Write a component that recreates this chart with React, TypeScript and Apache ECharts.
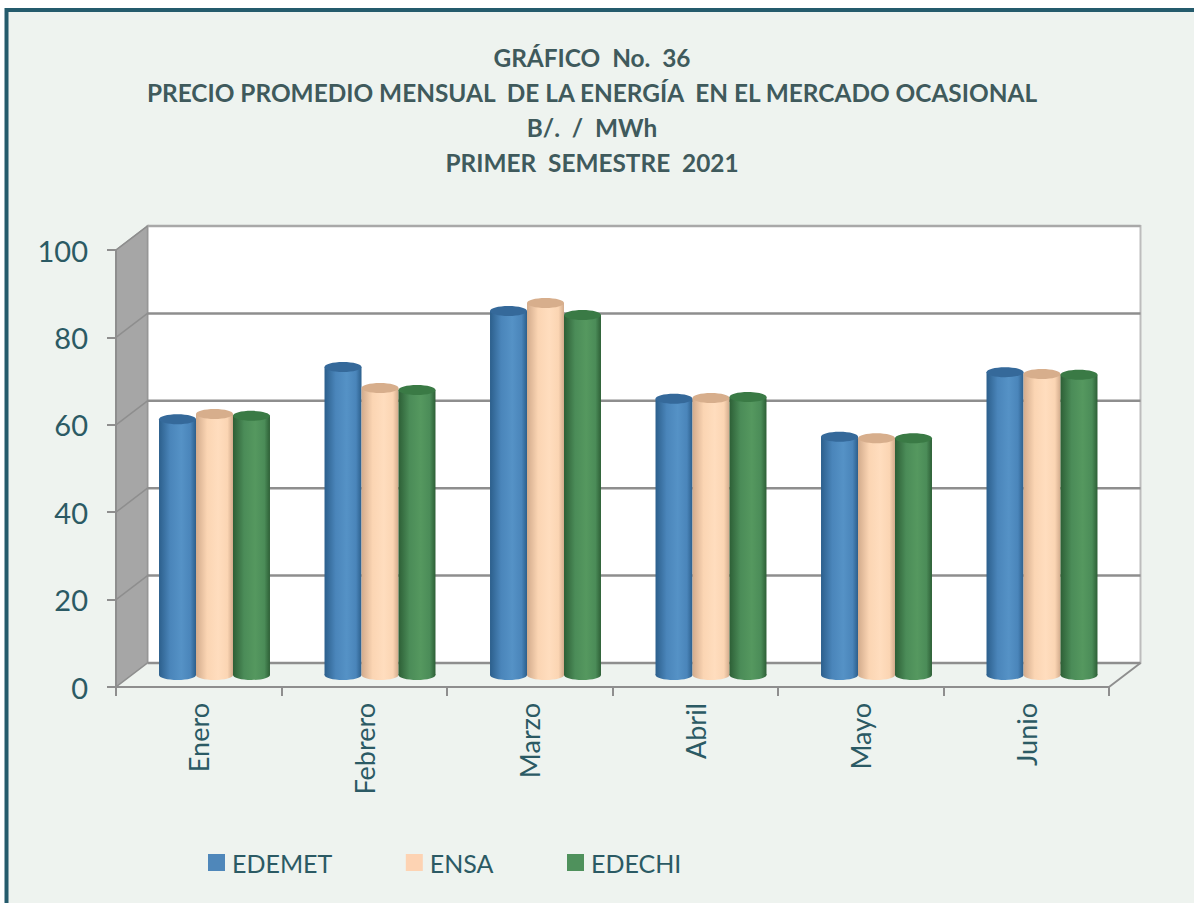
import React, { useEffect, useRef } from "react";
import * as echarts from "echarts";

const titleLines = [
  "GRÁFICO  No.  36",
  "PRECIO PROMEDIO MENSUAL  DE LA ENERGÍA  EN EL MERCADO OCASIONAL",
  "B/.  /  MWh",
  "PRIMER  SEMESTRE  2021",
];
const months = ["Enero", "Febrero", "Marzo", "Abril", "Mayo", "Junio"];
const edemet = [58.5, 70.5, 83.3, 63.2, 54.5, 69.3];
const ensa = [59.7, 65.7, 85.1, 63.4, 54.2, 68.9];
const edechi = [59.3, 65.2, 82.4, 63.6, 54.2, 68.7];
const valueTicks = [0, 20, 40, 60, 80, 100];

const FONT = "Lato";
const TEXT = "#2B5A64";
const GRID_GRAY = "#8E8E8E";
const DEPTH_X = 31.5;
const DEPTH_Y = -24;

const grad = (edge: string, mid: string, light: string) => ({
  type: "linear", x: 0, y: 0, x2: 1, y2: 0,
  colorStops: [
    { offset: 0, color: edge },
    { offset: 0.3, color: mid },
    { offset: 0.6, color: light },
    { offset: 0.85, color: mid },
    { offset: 1, color: edge },
  ],
});

function cylinderSeries(name: string, values: number[], index: number, legendColor: string, edge: string, mid: string, light: string, top: string) {
  return {
    type: "custom",
    name,
    z: 5,
    silent: true,
    itemStyle: { color: legendColor },
    encode: { x: 0, y: 1 },
    data: values.map((v, i) => [i, v]),
    renderItem: (_p: any, api: any) => {
      const p = api.coord([api.value(0), api.value(1)]);
      const base = api.coord([api.value(0), 0]);
      const w = api.size([1, 0])[0] * 0.2235;
      const cx = p[0] + DEPTH_X / 2 + (index - 1) * w;
      const topY = p[1] + DEPTH_Y / 2;
      const botY = base[1] + DEPTH_Y / 2;
      const ry = 5;
      const fill = grad(edge, mid, light);
      return {
        type: "group",
        children: [
          { type: "ellipse", shape: { cx, cy: botY, rx: w / 2, ry }, style: { fill } },
          { type: "rect", shape: { x: cx - w / 2, y: topY, width: w, height: botY - topY }, style: { fill } },
          { type: "ellipse", shape: { cx, cy: topY, rx: w / 2, ry }, style: { fill: top } },
        ],
      };
    },
  };
}

const wallSeries = {
  type: "custom",
  z: 1,
  silent: true,
  clip: false,
  encode: { x: 0, y: 1 },
  data: [[0, 0]],
  renderItem: (params: any, api: any) => {
    const c = params.coordSys;
    const left = c.x;
    const right = c.x + c.width;
    const y0 = api.coord([0, 0])[1];
    const y100 = api.coord([0, 100])[1];
    const bx = DEPTH_X;
    const by = DEPTH_Y;
    const children: any[] = [
      { type: "rect", shape: { x: left + bx, y: y100 + by, width: c.width, height: y0 - y100 }, style: { fill: "#FFFFFF", stroke: "#BDBDBD", lineWidth: 2 } },
      { type: "polygon", shape: { points: [[left, y0], [left + bx, y0 + by], [left + bx, y100 + by], [left, y100]] }, style: { fill: "#A6A6A6", stroke: "#969696", lineWidth: 1.5 } },
      { type: "polygon", shape: { points: [[left, y0], [left + bx, y0 + by], [right + bx, y0 + by], [right, y0]] }, style: { fill: "#EEF3EF", stroke: "none" } },
      { type: "line", shape: { x1: right, y1: y0, x2: right + bx, y2: y0 + by }, style: { stroke: GRID_GRAY, lineWidth: 2 } },
    ];
    valueTicks.forEach((v) => {
      const y = api.coord([0, v])[1];
      children.push({ type: "line", shape: { x1: left + bx, y1: y + by, x2: right + bx, y2: y + by }, style: { stroke: v === 100 ? "#A8A8A8" : GRID_GRAY, lineWidth: 2.5 } });
      children.push({ type: "line", shape: { x1: left, y1: y, x2: left + bx, y2: y + by }, style: { stroke: GRID_GRAY, lineWidth: 1.5 } });
    });
    return { type: "group", children };
  },
};

export default function App() {
  const ref = useRef<HTMLDivElement>(null);
  useEffect(() => {
    const chart = echarts.init(ref.current!, null, { renderer: "svg" });
    chart.setOption({
      animation: false,
      backgroundColor: "#FFFFFF",
      graphic: [
        { type: "rect", z: -10, shape: { x: 6.5, y: 10, width: 1300, height: 1000 }, style: { fill: "#EEF3EF", stroke: "#245B6C", lineWidth: 4 } },
      ],
      title: {
        text: titleLines.join("\n"),
        left: 587,
        top: 35,
        textAlign: "center",
        textStyle: { fontFamily: FONT, fontWeight: "bold", fontSize: 24.4, lineHeight: 35, color: "#3F5A5C" },
      },
      legend: {
        left: 203,
        top: 845,
        data: ["EDEMET", "ENSA", "EDECHI"],
        itemWidth: 17,
        itemHeight: 17,
        itemGap: 73.5,
        icon: "rect",
        textStyle: { fontFamily: FONT, fontSize: 25, color: TEXT, padding: [0, 0, 0, 2] },
        selectedMode: false,
      },
      grid: { left: 116, top: 250, width: 993, height: 437 },
      xAxis: {
        type: "category",
        data: months,
        axisLine: { show: true, lineStyle: { color: GRID_GRAY, width: 2 } },
        axisTick: { show: true, alignWithLabel: false, length: 9, lineStyle: { color: GRID_GRAY, width: 2 } },
        axisLabel: { rotate: 90, margin: 16, fontFamily: FONT, fontSize: 27, color: TEXT },
        z: 3,
      },
      yAxis: {
        type: "value",
        min: 0,
        max: 100,
        interval: 20,
        splitLine: { show: false },
        axisLine: { show: true, lineStyle: { color: GRID_GRAY, width: 2 } },
        axisTick: { show: true, length: 9, lineStyle: { color: GRID_GRAY, width: 2 } },
        axisLabel: { margin: 28, fontFamily: FONT, fontSize: 29, color: TEXT },
        z: 3,
      },
      series: [
        wallSeries,
        cylinderSeries("EDEMET", edemet, 0, "#4F87BA", "#2C5F8C", "#4A85BA", "#5592C6", "#35699A"),
        cylinderSeries("ENSA", ensa, 1, "#FDD3B3", "#D2AB8C", "#FBD5B3", "#FFDDBE", "#D7AE8C"),
        cylinderSeries("EDECHI", edechi, 2, "#4F915C", "#2D5F36", "#4B8C58", "#55985F", "#3A7A45"),
      ],
    });
    return () => chart.dispose();
  }, []);
  return <div ref={ref} style={{ position: "fixed", left: 0, top: 0, width: 1194, height: 903 }} />;
}
